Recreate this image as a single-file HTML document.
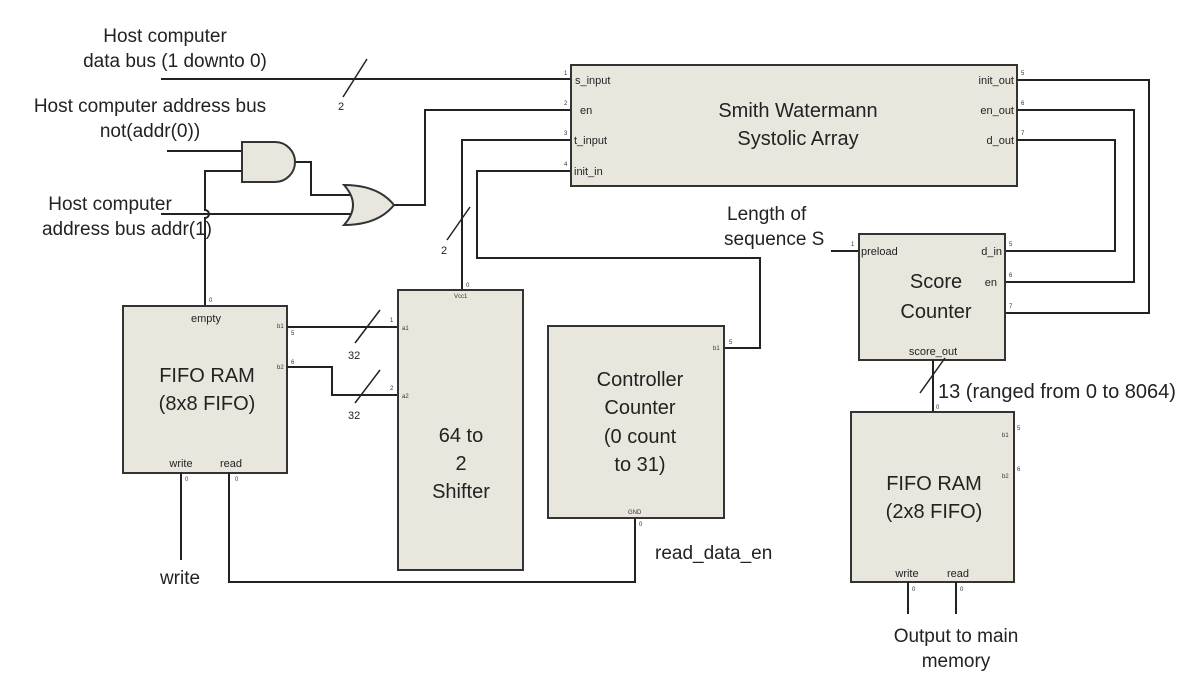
<!DOCTYPE html>
<html><head><meta charset="utf-8"><style>
html,body{margin:0;padding:0;background:#fff;}
svg{display:block;font-family:"Liberation Sans",sans-serif;}
.b{fill:#e9e7dd;stroke:#333;stroke-width:2}
.w{fill:none;stroke:#222;stroke-width:2}
.s{fill:none;stroke:#222;stroke-width:1.5}
.L{font-size:19px;fill:#222}
.M{font-size:20px;fill:#222}
.p{font-size:11px;fill:#222}
.t{font-size:6px;fill:#333}
</style></head><body>
<svg width="1196" height="684" viewBox="0 0 1196 684">
<!-- left labels -->
<text class="L" x="165" y="42" text-anchor="middle">Host computer</text>
<text class="L" x="175" y="67" text-anchor="middle">data bus (1 downto 0)</text>
<text class="L" x="150" y="112" text-anchor="middle">Host computer address bus</text>
<text class="L" x="150" y="137" text-anchor="middle">not(addr(0))</text>
<text class="L" x="110" y="210" text-anchor="middle">Host computer</text>
<text class="L" x="127" y="235" text-anchor="middle">address bus addr(1)</text>

<!-- wires -->
<path class="w" d="M161 79 H571"/>
<path class="s" d="M343 97 L367 59"/>
<text class="p" x="338" y="110">2</text>
<path class="w" d="M167 151 H242"/>
<path class="w" d="M205 306 V218 a3 3 0 0 0 0 -8 V171 H242"/>
<path class="w" d="M161 214 H352"/>
<path class="w" d="M293 162 H311 V195 H352"/>
<path class="w" d="M394 205 H425 V110 H571"/>
<path class="w" d="M462 290 V140 H571"/>
<path class="s" d="M447 240 L470 207"/>
<text class="p" x="441" y="254">2</text>
<path class="w" d="M571 171 H477 V258 H760 V348 H724"/>

<!-- gates -->
<path class="b" d="M242 142 H275 A20 20 0 0 1 275 182 H242 Z"/>
<path class="b" d="M344 185 Q362 205 344 225 Q378 225 394 205 Q378 185 344 185 Z"/>

<!-- SW array -->
<rect class="b" x="571" y="65" width="446" height="121"/>
<text class="M" x="798" y="117" text-anchor="middle">Smith Watermann</text>
<text class="M" x="798" y="145" text-anchor="middle">Systolic Array</text>
<text class="p" x="575" y="84">s_input</text>
<text class="p" x="580" y="114">en</text>
<text class="p" x="574" y="144">t_input</text>
<text class="p" x="574" y="175">init_in</text>
<text class="t" x="564" y="75">1</text><text class="t" x="564" y="105">2</text><text class="t" x="564" y="135">3</text><text class="t" x="564" y="166">4</text>
<text class="p" x="1014" y="84" text-anchor="end">init_out</text>
<text class="p" x="1014" y="114" text-anchor="end">en_out</text>
<text class="p" x="1014" y="144" text-anchor="end">d_out</text>
<text class="t" x="1021" y="75">5</text><text class="t" x="1021" y="105">6</text><text class="t" x="1021" y="135">7</text>
<path class="w" d="M1017 80 H1149 V313 H1005"/>
<path class="w" d="M1017 110 H1134 V282 H1005"/>
<path class="w" d="M1017 140 H1115 V251 H1005"/>

<!-- Score counter -->
<text class="L" x="727" y="220">Length of</text>
<text class="L" x="724" y="245">sequence S</text>
<path class="w" d="M831 251 H859"/>
<rect class="b" x="859" y="234" width="146" height="126"/>
<text class="t" x="851" y="246">1</text>
<text class="p" x="861" y="255">preload</text>
<text class="p" x="1002" y="255" text-anchor="end">d_in</text>
<text class="p" x="997" y="286" text-anchor="end">en</text>
<text class="t" x="1009" y="246">5</text><text class="t" x="1009" y="277">6</text><text class="t" x="1009" y="308">7</text>
<text class="M" x="936" y="288" text-anchor="middle">Score</text>
<text class="M" x="936" y="318" text-anchor="middle">Counter</text>
<text class="p" x="933" y="355" text-anchor="middle">score_out</text>
<path class="w" d="M933 360 V412"/>
<path class="s" d="M920 393 L945 358"/>
<text class="M" x="938" y="398">13 (ranged from 0 to 8064)</text>

<!-- FIFO2 -->
<rect class="b" x="851" y="412" width="163" height="170"/>
<text class="t" x="936" y="409">0</text>
<text class="M" x="934" y="490" text-anchor="middle">FIFO RAM</text>
<text class="M" x="934" y="518" text-anchor="middle">(2x8 FIFO)</text>
<text class="t" x="1002" y="437">b1</text><text class="t" x="1017" y="430">5</text>
<text class="t" x="1002" y="478">b2</text><text class="t" x="1017" y="471">6</text>
<text class="p" x="907" y="577" text-anchor="middle">write</text>
<text class="p" x="958" y="577" text-anchor="middle">read</text>
<path class="w" d="M908 582 V614 M956 582 V614"/>
<text class="t" x="912" y="591">0</text><text class="t" x="960" y="591">0</text>
<text class="L" x="956" y="642" text-anchor="middle">Output to main</text>
<text class="L" x="956" y="667" text-anchor="middle">memory</text>

<!-- FIFO1 -->
<rect class="b" x="123" y="306" width="164" height="167"/>
<text class="t" x="209" y="302">0</text>
<text class="p" x="206" y="322" text-anchor="middle">empty</text>
<text class="M" x="207" y="382" text-anchor="middle">FIFO RAM</text>
<text class="M" x="207" y="410" text-anchor="middle">(8x8 FIFO)</text>
<text class="p" x="181" y="467" text-anchor="middle">write</text>
<text class="p" x="231" y="467" text-anchor="middle">read</text>
<text class="t" x="277" y="328">b1</text><text class="t" x="291" y="335">5</text>
<text class="t" x="277" y="369">b2</text><text class="t" x="291" y="364">6</text>
<path class="w" d="M287 327 H398"/>
<path class="w" d="M287 367 H332 V395 H398"/>
<path class="s" d="M355 343 L380 310"/>
<path class="s" d="M355 403 L380 370"/>
<text class="p" x="348" y="359">32</text>
<text class="p" x="348" y="419">32</text>
<path class="w" d="M181 473 V560"/>
<text class="L" x="180" y="584" text-anchor="middle">write</text>
<path class="w" d="M229 473 V582 H635 V518"/>
<text class="t" x="185" y="481">0</text><text class="t" x="235" y="481">0</text>

<!-- Shifter -->
<rect class="b" x="398" y="290" width="125" height="280"/>
<text class="t" x="466" y="287">0</text>
<text class="t" x="454" y="298">Vcc1</text>
<text class="t" x="390" y="322">1</text><text class="t" x="402" y="330">a1</text>
<text class="t" x="390" y="390">2</text><text class="t" x="402" y="398">a2</text>
<text class="M" x="461" y="442" text-anchor="middle">64 to</text>
<text class="M" x="461" y="470" text-anchor="middle">2</text>
<text class="M" x="461" y="498" text-anchor="middle">Shifter</text>

<!-- Controller -->
<rect class="b" x="548" y="326" width="176" height="192"/>
<text class="t" x="713" y="350">b1</text><text class="t" x="729" y="344">5</text>
<text class="M" x="640" y="386" text-anchor="middle">Controller</text>
<text class="M" x="640" y="414" text-anchor="middle">Counter</text>
<text class="M" x="640" y="443" text-anchor="middle">(0 count</text>
<text class="M" x="640" y="471" text-anchor="middle">to 31)</text>
<text class="t" x="628" y="514">GND</text>
<text class="t" x="639" y="526">0</text>
<text class="L" x="655" y="559">read_data_en</text>
</svg>
</body></html>
